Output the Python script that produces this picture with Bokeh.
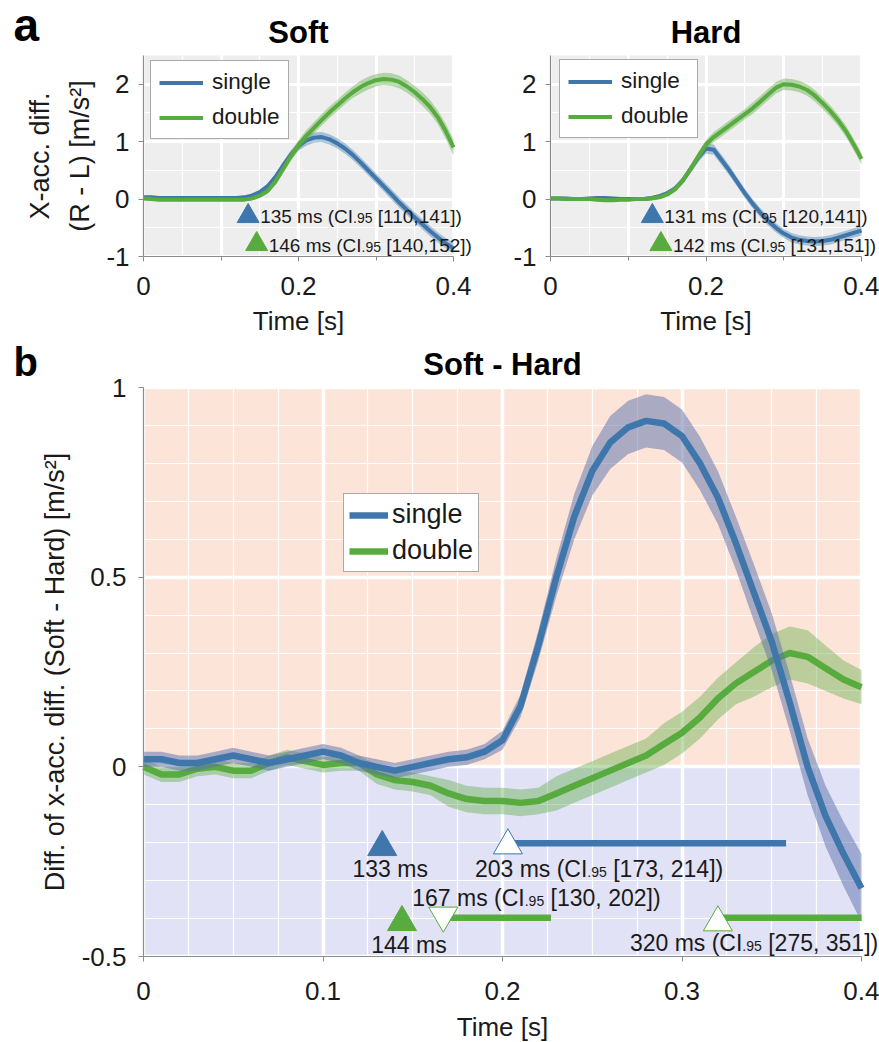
from bokeh.plotting import figure
from bokeh.layouts import column, row
from bokeh.models import (FixedTicker, Legend, LegendItem, Label, BoxAnnotation,
                          Range1d, CustomJSTickFormatter)
from bokeh.embed import file_html
from bokeh.resources import INLINE

# ---------------- data ----------------
time_s = [0.00, 0.01, 0.02, 0.03, 0.04, 0.05, 0.06, 0.07, 0.08, 0.09,
          0.10, 0.11, 0.12, 0.13, 0.14, 0.15, 0.16, 0.17, 0.18, 0.19,
          0.20, 0.21, 0.22, 0.23, 0.24, 0.25, 0.26, 0.27, 0.28, 0.29,
          0.30, 0.31, 0.32, 0.33, 0.34, 0.35, 0.36, 0.37, 0.38, 0.39, 0.40]

soft_single = [0.03, 0.03, 0.02, 0.02, 0.02, 0.02, 0.02, 0.02, 0.02, 0.02,
               0.02, 0.02, 0.02, 0.03, 0.06, 0.12, 0.22, 0.38, 0.58, 0.77,
               0.92, 1.02, 1.07, 1.08, 1.04, 0.97, 0.88, 0.77, 0.64, 0.50,
               0.36, 0.22, 0.08, -0.06, -0.19, -0.32, -0.44, -0.56, -0.67, -0.77,
               -0.86]
soft_single_ci = [0.03, 0.03, 0.03, 0.03, 0.03, 0.03, 0.03, 0.03, 0.03, 0.03,
                  0.03, 0.03, 0.03, 0.03, 0.04, 0.04, 0.05, 0.06, 0.07, 0.08,
                  0.08, 0.09, 0.09, 0.09, 0.09, 0.09, 0.09, 0.09, 0.09, 0.09,
                  0.09, 0.09, 0.09, 0.09, 0.09, 0.09, 0.09, 0.09, 0.09, 0.09,
                  0.09]
soft_double = [0.01, 0.00, -0.01, -0.01, -0.01, -0.01, -0.01, -0.01, -0.01, -0.01,
               -0.01, -0.01, -0.01, -0.01, 0.01, 0.06, 0.14, 0.30, 0.52, 0.74,
               0.94, 1.10, 1.24, 1.38, 1.51, 1.63, 1.75, 1.86, 1.95, 2.02,
               2.07, 2.09, 2.08, 2.04, 1.96, 1.86, 1.74, 1.60, 1.42, 1.18,
               0.90]
soft_double_ci = [0.03, 0.03, 0.03, 0.03, 0.03, 0.03, 0.03, 0.03, 0.03, 0.03,
                  0.03, 0.03, 0.03, 0.03, 0.03, 0.04, 0.05, 0.06, 0.07, 0.08,
                  0.09, 0.10, 0.10, 0.10, 0.10, 0.10, 0.10, 0.10, 0.11, 0.11,
                  0.11, 0.11, 0.11, 0.11, 0.11, 0.11, 0.12, 0.12, 0.12, 0.13,
                  0.14]
hard_single = [0.01, 0.01, 0.01, 0.00, 0.00, 0.01, 0.02, 0.02, 0.01, 0.00,
               0.00, 0.00, 0.00, 0.02, 0.05, 0.10, 0.18, 0.32, 0.52, 0.72,
               0.88, 0.86, 0.68, 0.50, 0.30, 0.10, -0.08, -0.24, -0.38, -0.50,
               -0.60, -0.67, -0.71, -0.73, -0.74, -0.73, -0.71, -0.67, -0.63, -0.59,
               -0.55]
hard_single_ci = [0.03, 0.03, 0.03, 0.03, 0.03, 0.03, 0.03, 0.03, 0.03, 0.03,
                  0.03, 0.03, 0.03, 0.03, 0.04, 0.04, 0.05, 0.06, 0.07, 0.08,
                  0.09, 0.09, 0.09, 0.09, 0.08, 0.08, 0.08, 0.08, 0.08, 0.08,
                  0.08, 0.08, 0.08, 0.08, 0.08, 0.08, 0.08, 0.08, 0.08, 0.08,
                  0.09]
hard_double = [0.01, 0.01, 0.00, 0.00, 0.00, 0.00, -0.01, -0.02, -0.02, -0.01,
               -0.01, 0.00, 0.00, 0.01, 0.03, 0.08, 0.17, 0.32, 0.52, 0.74,
               0.95, 1.08, 1.18, 1.28, 1.38, 1.48, 1.58, 1.70, 1.82, 1.94,
               2.00, 1.99, 1.96, 1.90, 1.80, 1.67, 1.53, 1.37, 1.18, 0.95,
               0.70]
hard_double_ci = [0.03, 0.03, 0.03, 0.03, 0.03, 0.03, 0.03, 0.03, 0.03, 0.03,
                  0.03, 0.03, 0.03, 0.03, 0.03, 0.04, 0.05, 0.06, 0.07, 0.08,
                  0.08, 0.09, 0.09, 0.09, 0.09, 0.09, 0.10, 0.10, 0.10, 0.10,
                  0.10, 0.10, 0.10, 0.10, 0.10, 0.10, 0.10, 0.10, 0.10, 0.10,
                  0.10]
diff_single = [0.02, 0.02, 0.01, 0.01, 0.02, 0.03, 0.02, 0.01, 0.02, 0.03,
               0.04, 0.03, 0.01, 0.00, -0.01, 0.00, 0.01, 0.02, 0.025, 0.04,
               0.07, 0.16, 0.32, 0.50, 0.66, 0.78, 0.855, 0.895, 0.912, 0.905,
               0.872, 0.80, 0.71, 0.59, 0.46, 0.33, 0.17, 0.00, -0.13, -0.23,
               -0.32]
diff_single_ci = [0.02, 0.02, 0.02, 0.02, 0.02, 0.02, 0.02, 0.02, 0.02, 0.02,
                  0.02, 0.02, 0.02, 0.02, 0.02, 0.02, 0.02, 0.02, 0.02, 0.02,
                  0.025, 0.03, 0.04, 0.05, 0.06, 0.065, 0.07, 0.07, 0.07, 0.07,
                  0.07, 0.07, 0.07, 0.07, 0.075, 0.075, 0.075, 0.075, 0.08, 0.085,
                  0.09]
diff_double = [0.00, -0.02, -0.02, -0.005, 0.00, -0.01, -0.01, 0.01, 0.025, 0.015,
               0.005, 0.01, 0.01, -0.02, -0.035, -0.04, -0.05, -0.07, -0.085, -0.09,
               -0.09, -0.095, -0.09, -0.07, -0.05, -0.03, -0.01, 0.01, 0.03, 0.06,
               0.09, 0.13, 0.18, 0.22, 0.25, 0.28, 0.30, 0.29, 0.26, 0.23,
               0.21]
diff_double_ci = [0.02, 0.02, 0.02, 0.02, 0.02, 0.02, 0.02, 0.02, 0.02, 0.02,
                  0.02, 0.02, 0.02, 0.025, 0.025, 0.025, 0.025, 0.035, 0.035, 0.035,
                  0.035, 0.035, 0.035, 0.045, 0.045, 0.045, 0.045, 0.045, 0.045, 0.055,
                  0.055, 0.055, 0.055, 0.055, 0.065, 0.07, 0.07, 0.07, 0.06, 0.05,
                  0.045]

# onsets (ms) and 95% CIs
soft_onset_ms = [135, 146]
soft_onset_ci = ["[110,141]", "[140,152]"]
hard_onset_ms = [131, 142]
hard_onset_ci = ["[120,141]", "[131,151]"]
diff_onset_ms = [133, 144]                     # single, double
single_div_ms = [203]
single_div_ci = ["[173, 214]"]
single_div_end_ms = [358]
double_div_ms = [167, 320]
double_div_ci = ["[130, 202]", "[275, 351]"]
double_div_end_ms = [227, 400]

# ticks
a_xlim = (0, 0.4)
a_ylim = (-1, 2.5)
b_xlim = (0, 0.4)
b_ylim = (-0.5, 1)
a_xticks = [0, 0.2, 0.4]
a_xticks_minor = [0.1, 0.3]
a_xgrid = [0, 0.1, 0.2, 0.3, 0.4]
a_xgrid_minor = [0.05, 0.15, 0.25, 0.35]
a_yticks = [-1, 0, 1, 2]
a_ygrid_minor = [-0.5, 0.5, 1.5]
b_xticks = [0, 0.1, 0.2, 0.3, 0.4]
b_xgrid_minor = [0.025, 0.05, 0.075, 0.125, 0.15, 0.175, 0.225, 0.25, 0.275,
                 0.325, 0.35, 0.375]
b_yticks = [-0.5, 0, 0.5, 1]
b_ygrid_minor = [-0.4, -0.3, -0.2, -0.1, 0.1, 0.2, 0.3, 0.4, 0.6, 0.7, 0.8, 0.9]

# ---------------- styling / geometry ----------------
FONT = "Liberation Sans"
INK = "#1a1a1a"
AXIS = "#8c8c8c"
BLUE = "#3f77ad"
GREEN = "#58ab3e"
BLUE_BAND = "#5a6fae"
SALMON = "#fde4d8"
LAVENDER = "#e1e2f5"
PANEL_BG = "#eeeeee"

# pixel geometry (canvas boxes and plot areas, picture pixels)
ROW_Y = (0, 336)
P1_X = (0, 490)
P2_X = (490, 879)
P3_X = (0, 879)
P3_Y = (336, 1042)
P1_AREA = (143, 453, 55, 256)
P2_AREA = (550, 861, 55, 256)
P3_AREA = (143, 861, 387, 956)
BASE_FIX = 0.28          # label baseline correction (fraction of font size)
LEG_FIX = 5              # legend vertical correction (px)

ARIAL = {"0": 556, "1": 556, "2": 556, "3": 556, "4": 556, "5": 556, "6": 556,
         "7": 556, "8": 556, "9": 556, " ": 278, "m": 833, "s": 500, "(": 333,
         ")": 333, "C": 722, "I": 278, ".": 278, "[": 278, "]": 278, ",": 278}


def tw(s, px):
    return sum(ARIAL[c] for c in s) * px / 1000.0


class Geo:
    def __init__(self, cx, cy, area, xlim, ylim):
        self.cx, self.cy, self.area = cx, cy, area
        px0, px1, py0, py1 = area
        self.sx = (xlim[1] - xlim[0]) / (px1 - px0)
        self.sy = (ylim[1] - ylim[0]) / (py1 - py0)
        self.xlim, self.ylim = xlim, ylim

    def x(self, px):
        return self.xlim[0] + (px - self.area[0]) * self.sx

    def y(self, py):
        return self.ylim[0] + (self.area[3] - py) * self.sy

    def ranges(self):
        return (Range1d(self.x(self.cx[0]), self.x(self.cx[1])),
                Range1d(self.y(self.cy[1]), self.y(self.cy[0])))

    def size(self):
        return self.cx[1] - self.cx[0], self.cy[1] - self.cy[0]


def new_fig(geo):
    xr, yr = geo.ranges()
    w, h = geo.size()
    p = figure(width=w, height=h, x_range=xr, y_range=yr,
               output_backend="svg", toolbar_location=None, min_border=0)
    p.min_border_left = p.min_border_right = 0
    p.min_border_top = p.min_border_bottom = 0
    p.outline_line_color = None
    p.background_fill_color = "white"
    return p


def text(p, geo, x, base_px, s, px, align="left", bold=False, x_off=0):
    y = geo.y(base_px - BASE_FIX * px)
    p.add_layout(Label(x=x, y=y, x_offset=x_off, text=s, text_font=FONT,
                       text_font_size=f"{px}px",
                       text_color="black" if bold else INK,
                       text_font_style="bold" if bold else "normal",
                       text_align=align, text_baseline="alphabetic"))


def ci_label(p, geo, x, base_px, ms, ci, main_px, sub_px, x_off):
    a = f"{ms} ms (CI"
    b = ".95"
    c = f"{ci})"
    wa = tw(a, main_px)
    wb = tw(b, sub_px)
    ws = tw(" ", main_px)
    text(p, geo, x, base_px, a, main_px, x_off=x_off)
    text(p, geo, x, base_px, b, sub_px, x_off=x_off + wa)
    text(p, geo, x, base_px, c, main_px, x_off=x_off + wa + wb + ws)


def style(p, xlim, ylim, xt, xt_minor, yt, xg, xg_minor, yg_minor,
          x_std, y_std, xl_std, yl_std, major_w, minor_w):
    ax = p.xaxis[0]
    ay = p.yaxis[0]
    ax.fixed_location = ylim[0]
    ay.fixed_location = xlim[0]
    ax.bounds = xlim
    ay.bounds = ylim
    ax.ticker = FixedTicker(ticks=xt, minor_ticks=xt_minor)
    ay.ticker = FixedTicker(ticks=yt, minor_ticks=[])
    for a in (ax, ay):
        a.formatter = CustomJSTickFormatter(code="return String(tick);")
        a.axis_line_color = AXIS
        a.axis_line_width = 1.2
        a.major_tick_line_color = AXIS
        a.major_tick_in = 0
        a.major_tick_out = 5
        a.minor_tick_line_color = AXIS
        a.minor_tick_in = 0
        a.minor_tick_out = 4
        a.major_label_text_font = FONT
        a.major_label_text_font_size = "26px"
        a.major_label_text_color = INK
        a.axis_label_text_font = FONT
        a.axis_label_text_font_style = "normal"
        a.axis_label_text_color = INK
    ax.major_label_standoff = x_std
    ay.major_label_standoff = y_std
    ax.axis_label_standoff = xl_std
    ay.axis_label_standoff = yl_std
    ax.axis_label = "Time [s]"
    ax.axis_label_text_font_size = "26px"
    gx = p.xgrid[0]
    gy = p.ygrid[0]
    gx.ticker = FixedTicker(ticks=xg, minor_ticks=xg_minor)
    gy.ticker = FixedTicker(ticks=yt, minor_ticks=yg_minor)
    for g in (gx, gy):
        g.grid_line_color = "white"
        g.grid_line_width = major_w
        g.minor_grid_line_color = "white"
        g.minor_grid_line_width = minor_w


def lower(m, c):
    return [a - b for a, b in zip(m, c)]


def upper(m, c):
    return [a + b for a, b in zip(m, c)]


def panel_a(geo, title, single, single_ci, double, double_ci, onsets, cis,
            leg_loc, ylabel):
    p = new_fig(geo)
    p.add_layout(BoxAnnotation(left=a_xlim[0], right=a_xlim[1], bottom=a_ylim[0],
                               top=a_ylim[1], fill_color=PANEL_BG, fill_alpha=1,
                               line_alpha=0, level="image"))
    style(p, a_xlim, a_ylim, a_xticks, a_xticks_minor, a_yticks, a_xgrid,
          a_xgrid_minor, a_ygrid_minor, 15, 9, 8, 8, 3, 1.2)
    if ylabel:
        p.yaxis[0].axis_label = "X-acc. diff.\n(R - L) [m/s\u00b2]"
        p.yaxis[0].axis_label_text_font_size = "27px"
        p.yaxis[0].axis_label_text_line_height = 1.33
    p.varea(x=time_s, y1=lower(single, single_ci), y2=upper(single, single_ci),
            fill_color=BLUE, fill_alpha=0.4)
    l1 = p.line(time_s, single, line_color=BLUE, line_width=4, line_join="round")
    p.varea(x=time_s, y1=lower(double, double_ci), y2=upper(double, double_ci),
            fill_color=GREEN, fill_alpha=0.4)
    l2 = p.line(time_s, double, line_color=GREEN, line_width=4, line_join="round")

    xs = [v / 1000 for v in onsets]
    p.scatter(x=[xs[0]], y=[geo.y(215.7)], marker="triangle", size=22,
              fill_color=BLUE, line_color=BLUE)
    p.scatter(x=[xs[1]], y=[geo.y(243.7)], marker="triangle", size=22,
              fill_color=GREEN, line_color=GREEN)
    ci_label(p, geo, xs[0], 221.7, onsets[0], cis[0], 19, 14, 12)
    ci_label(p, geo, xs[1], 250, onsets[1], cis[1], 19, 14, 12)

    # title
    text(p, geo, (a_xlim[0] + a_xlim[1]) / 2, 41, title, 31, align="center",
         bold=True)

    leg = Legend(items=[LegendItem(label="single", renderers=[l1]),
                        LegendItem(label="double", renderers=[l2])],
                 location=leg_loc, margin=0, padding=8, spacing=9,
                 glyph_width=44, glyph_height=25, label_height=25,
                 label_standoff=9,
                 label_text_font=FONT, label_text_font_size="22.5px",
                 label_text_color=INK,
                 border_line_color="#555555", border_line_width=1,
                 background_fill_color="white", background_fill_alpha=1)
    p.add_layout(leg)
    return p


g1 = Geo(P1_X, ROW_Y, P1_AREA, a_xlim, a_ylim)
g2 = Geo(P2_X, ROW_Y, P2_AREA, a_xlim, a_ylim)
g3 = Geo(P3_X, P3_Y, P3_AREA, b_xlim, b_ylim)

p1 = panel_a(g1, "Soft", soft_single, soft_single_ci, soft_double, soft_double_ci,
             soft_onset_ms, soft_onset_ci,
             (150 - P1_X[0], ROW_Y[1] - 134 - LEG_FIX), True)
text(p1, g1, g1.x(13), 37, "a", 46, bold=True)
p2 = panel_a(g2, "Hard", hard_single, hard_single_ci, hard_double, hard_double_ci,
             hard_onset_ms, hard_onset_ci,
             (559 - P2_X[0], ROW_Y[1] - 133 - LEG_FIX), False)

# ---------------- panel b ----------------
p3 = new_fig(g3)
p3.add_layout(BoxAnnotation(left=b_xlim[0], right=b_xlim[1], bottom=0,
                            top=b_ylim[1], fill_color=SALMON, fill_alpha=1,
                            line_alpha=0, level="image"))
p3.add_layout(BoxAnnotation(left=b_xlim[0], right=b_xlim[1], bottom=b_ylim[0],
                            top=0, fill_color=LAVENDER, fill_alpha=1,
                            line_alpha=0, level="image"))
style(p3, b_xlim, b_ylim, b_xticks, [], b_yticks, b_xticks, b_xgrid_minor,
      b_ygrid_minor, 20, 12, 9, 9, 3.5, 1.2)
p3.yaxis[0].axis_label = "Diff. of x-acc. diff. (Soft - Hard) [m/s\u00b2]"
p3.yaxis[0].axis_label_text_font_size = "27px"

p3.varea(x=time_s, y1=lower(diff_double, diff_double_ci),
         y2=upper(diff_double, diff_double_ci), fill_color=GREEN, fill_alpha=0.4)
b2 = p3.line(time_s, diff_double, line_color=GREEN, line_width=6.5,
             line_join="round")
p3.varea(x=time_s, y1=lower(diff_single, diff_single_ci),
         y2=upper(diff_single, diff_single_ci), fill_color=BLUE_BAND,
         fill_alpha=0.5)
b1 = p3.line(time_s, diff_single, line_color=BLUE, line_width=6.5,
             line_join="round")

# divergence intervals
y_blue_bar = g3.y(842.7)
y_green_bar = g3.y(917.3)
p3.segment(x0=[v / 1000 for v in single_div_ms], y0=[y_blue_bar],
           x1=[v / 1000 for v in single_div_end_ms], y1=[y_blue_bar],
           line_color=BLUE, line_width=6.5)
p3.segment(x0=[v / 1000 for v in double_div_ms], y0=[y_green_bar, y_green_bar],
           x1=[v / 1000 for v in double_div_end_ms], y1=[y_green_bar, y_green_bar],
           line_color=GREEN, line_width=6.5)

# onset markers
p3.scatter(x=[diff_onset_ms[0] / 1000], y=[g3.y(846.7)], marker="triangle",
           size=29, fill_color=BLUE, line_color=BLUE)
p3.scatter(x=[diff_onset_ms[1] / 1000], y=[g3.y(921.7)], marker="triangle",
           size=29, fill_color=GREEN, line_color=GREEN)
p3.scatter(x=[single_div_ms[0] / 1000], y=[g3.y(845)], marker="triangle",
           size=29, fill_color="white", line_color=BLUE, line_width=1)
p3.scatter(x=[double_div_ms[0] / 1000], y=[g3.y(915)], marker="inverted_triangle",
           size=29, fill_color="white", line_color=GREEN, line_width=1)
p3.scatter(x=[double_div_ms[1] / 1000], y=[g3.y(922)], marker="triangle",
           size=29, fill_color="white", line_color=GREEN, line_width=1)

text(p3, g3, diff_onset_ms[0] / 1000, 875, f"{diff_onset_ms[0]} ms", 23,
     align="center", x_off=8)
text(p3, g3, diff_onset_ms[1] / 1000, 950.7, f"{diff_onset_ms[1]} ms", 23,
     align="center", x_off=7)
ci_label(p3, g3, single_div_ms[0] / 1000, 875, single_div_ms[0],
         single_div_ci[0], 23, 14, -33)
ci_label(p3, g3, double_div_ms[0] / 1000, 904, double_div_ms[0],
         double_div_ci[0], 23, 14, -31)
ci_label(p3, g3, double_div_ms[1] / 1000, 949, double_div_ms[1],
         double_div_ci[1], 23, 14, -88)

text(p3, g3, (b_xlim[0] + b_xlim[1]) / 2, 373, "Soft - Hard", 31,
     align="center", bold=True)
text(p3, g3, g3.x(13), 373, "b", 40, bold=True)

leg3 = Legend(items=[LegendItem(label="single", renderers=[b1]),
                     LegendItem(label="double", renderers=[b2])],
              location=(343 - P3_X[0], P3_Y[1] - 567 - LEG_FIX), margin=0,
              padding=5, spacing=5, glyph_width=39, glyph_height=30,
              label_height=30, label_standoff=4,
              label_text_font=FONT, label_text_font_size="27px",
              label_text_color=INK,
              border_line_color="#555555", border_line_width=1,
              background_fill_color="white", background_fill_alpha=1)
p3.add_layout(leg3)

layout = column(row(p1, p2), p3)
open("out.html", "w").write(file_html(layout, INLINE))
